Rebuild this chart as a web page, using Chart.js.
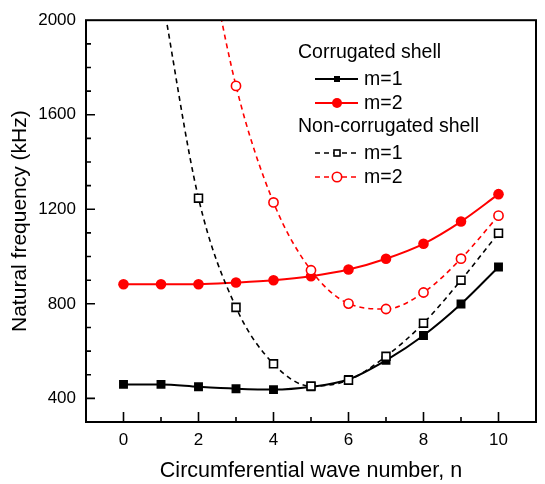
<!DOCTYPE html>
<html>
<head>
<meta charset="utf-8">
<script src="https://cdn.jsdelivr.net/npm/chart.js@4.4.1/dist/chart.umd.min.js"></script>
<style>
    html, body { margin: 0; padding: 0; background: #fff; }
    #wrap { width: 545px; height: 484px; }
</style>
</head>
<body>
<div id="wrap"><canvas id="grafico"></canvas></div>
<script>
// Circumferential wave number n
const ondas = [0, 1, 2, 3, 4, 5, 6, 7, 8, 9, 10];

// Natural frequency (kHz)
const corrugadaM1 = [459, 459, 449, 441, 437, 449, 480, 561, 666, 799, 956];
const corrugadaM2 = [883, 883, 883, 890, 900, 917, 945, 991, 1054, 1148, 1264];
const lisaM1 = [null, 2130, 1247, 785, 546, 452, 477, 578, 718, 900, 1099];
const lisaM2 = [null, null, 2500, 1722, 1229, 942, 801, 778, 848, 991, 1173];

const rotulosX = [0, 2, 4, 6, 8, 10];
const rotulosY = [400, 800, 1200, 1600, 2000];

const fonte = '"Liberation Sans", Arial, sans-serif';
const vermelho = '#ff0000';

function pontos(valores) {
    return valores.map((v, i) => ({ x: ondas[i], y: v }));
}

function desenharMarcador(ctx, estilo, x, y, cor) {
    ctx.save();
    ctx.setLineDash([]);
    ctx.strokeStyle = cor;
    ctx.fillStyle = cor;
    ctx.lineWidth = 1.6;
    if (estilo === 'quadradoCheio') {
        ctx.fillRect(x - 3, y - 3, 6, 6);
    } else if (estilo === 'circuloCheio') {
        ctx.beginPath();
        ctx.arc(x, y, 5, 0, Math.PI * 2);
        ctx.fill();
    } else if (estilo === 'quadradoVazio') {
        ctx.fillStyle = '#fff';
        ctx.fillRect(x - 3, y - 3, 6, 6);
        ctx.strokeRect(x - 3, y - 3, 6, 6);
    } else {
        ctx.fillStyle = '#fff';
        ctx.beginPath();
        ctx.arc(x, y, 4.7, 0, Math.PI * 2);
        ctx.fill();
        ctx.stroke();
    }
    ctx.restore();
}

// Caixa, marcas internas dos eixos e legenda agrupada
const pluginMoldura = {
    id: 'moldura',
    afterDraw(chart) {
        const ctx = chart.ctx;
        const area = chart.chartArea;
        const sx = chart.scales.x;
        const sy = chart.scales.y;

        ctx.save();
        ctx.strokeStyle = '#000';
        ctx.lineWidth = 2;
        ctx.strokeRect(area.left, area.top, area.right - area.left, area.bottom - area.top);

        ctx.lineWidth = 1.6;
        ctx.beginPath();
        sx.ticks.forEach(t => {
            if (t.value <= sx.min || t.value >= sx.max) return;
            const px = sx.getPixelForValue(t.value);
            const len = rotulosX.includes(t.value) ? 10 : 5;
            ctx.moveTo(px, area.bottom);
            ctx.lineTo(px, area.bottom - len);
        });
        sy.ticks.forEach(t => {
            if (t.value <= sy.min || t.value >= sy.max) return;
            const py = sy.getPixelForValue(t.value);
            const len = rotulosY.includes(t.value) ? 9 : 5;
            ctx.moveTo(area.left, py);
            ctx.lineTo(area.left + len, py);
        });
        ctx.stroke();

        // legenda
        ctx.fillStyle = '#000';
        ctx.font = '19.5px ' + fonte;
        ctx.textBaseline = 'middle';
        ctx.textAlign = 'left';
        ctx.fillText('Corrugated shell', 298, 53);
        ctx.fillText('Non-corrugated shell', 298, 127);

        const itens = [
            { y: 79, cor: '#000', tracejado: false, estilo: 'quadradoCheio' },
            { y: 103, cor: vermelho, tracejado: false, estilo: 'circuloCheio' },
            { y: 153, cor: '#000', tracejado: true, estilo: 'quadradoVazio' },
            { y: 177, cor: vermelho, tracejado: true, estilo: 'circuloVazio' }
        ];
        const textos = ['m=1', 'm=2', 'm=1', 'm=2'];
        itens.forEach((it, i) => {
            ctx.save();
            ctx.strokeStyle = it.cor;
            ctx.lineWidth = it.tracejado ? 1.6 : 2;
            ctx.setLineDash(it.tracejado ? [5, 4] : []);
            ctx.beginPath();
            ctx.moveTo(315, it.y);
            ctx.lineTo(358, it.y);
            ctx.stroke();
            ctx.restore();
            desenharMarcador(ctx, it.estilo, 337, it.y, it.cor);
            ctx.fillStyle = '#000';
            ctx.fillText(textos[i], 364, it.y + 1);
        });
        ctx.restore();
    }
};

function criarGrafico() {
    const ctx = document.getElementById('grafico');

    new Chart(ctx.getContext('2d'), {
        type: 'line',
        data: {
            datasets: [
                {
                    data: pontos(corrugadaM1),
                    order: 2,
                    borderColor: '#000',
                    borderWidth: 2,
                    pointStyle: 'rect',
                    pointRadius: 6.3,
                    pointBackgroundColor: '#000',
                    pointBorderWidth: 0,
                    cubicInterpolationMode: 'monotone'
                },
                {
                    data: pontos(corrugadaM2),
                    order: 2,
                    borderColor: vermelho,
                    borderWidth: 2,
                    pointStyle: 'circle',
                    pointRadius: 5.3,
                    pointBackgroundColor: vermelho,
                    pointBorderWidth: 0,
                    cubicInterpolationMode: 'monotone'
                },
                {
                    data: pontos(lisaM1),
                    order: 1,
                    borderColor: '#000',
                    borderWidth: 1.6,
                    borderDash: [5, 4],
                    pointStyle: 'rect',
                    pointRadius: 5.6,
                    pointBackgroundColor: '#fff',
                    pointBorderColor: '#000',
                    pointBorderWidth: 1.6,
                    cubicInterpolationMode: 'monotone'
                },
                {
                    data: pontos(lisaM2),
                    order: 1,
                    borderColor: vermelho,
                    borderWidth: 1.6,
                    borderDash: [5, 4],
                    pointStyle: 'circle',
                    pointRadius: 4.6,
                    pointBackgroundColor: '#fff',
                    pointBorderColor: vermelho,
                    pointBorderWidth: 1.6,
                    cubicInterpolationMode: 'monotone'
                }
            ]
        },
        options: {
            responsive: true,
            maintainAspectRatio: false,
            animation: false,
            layout: { padding: { top: 18, right: 9, left: 0, bottom: 0 } },
            plugins: {
                legend: { display: false },
                tooltip: { enabled: false }
            },
            scales: {
                x: {
                    type: 'linear',
                    min: -1,
                    max: 11,
                    afterFit: s => { s.height = 62; },
                    grid: { display: false, drawTicks: false },
                    border: { display: false },
                    ticks: {
                        stepSize: 1,
                        autoSkip: false,
                        maxRotation: 0,
                        padding: 8,
                        color: '#000',
                        font: { family: fonte, size: 17 },
                        callback: v => rotulosX.includes(v) ? String(v) : ''
                    },
                    title: {
                        display: true,
                        text: 'Circumferential wave number, n',
                        color: '#000',
                        font: { family: fonte, size: 21.5 },
                        padding: { top: 6, bottom: 0 }
                    }
                },
                y: {
                    min: 300,
                    max: 2000,
                    afterFit: s => { s.width = 86; },
                    grid: { display: false, drawTicks: false },
                    border: { display: false },
                    ticks: {
                        stepSize: 100,
                        autoSkip: false,
                        padding: 10,
                        color: '#000',
                        font: { family: fonte, size: 17 },
                        callback: v => rotulosY.includes(v) ? String(v) : ''
                    },
                    title: {
                        display: true,
                        text: 'Natural frequency (kHz)',
                        color: '#000',
                        font: { family: fonte, size: 21 },
                        padding: { top: 8, bottom: 0 }
                    }
                }
            }
        },
        plugins: [pluginMoldura]
    });
}

document.addEventListener('DOMContentLoaded', criarGrafico);
</script>
</body>
</html>
